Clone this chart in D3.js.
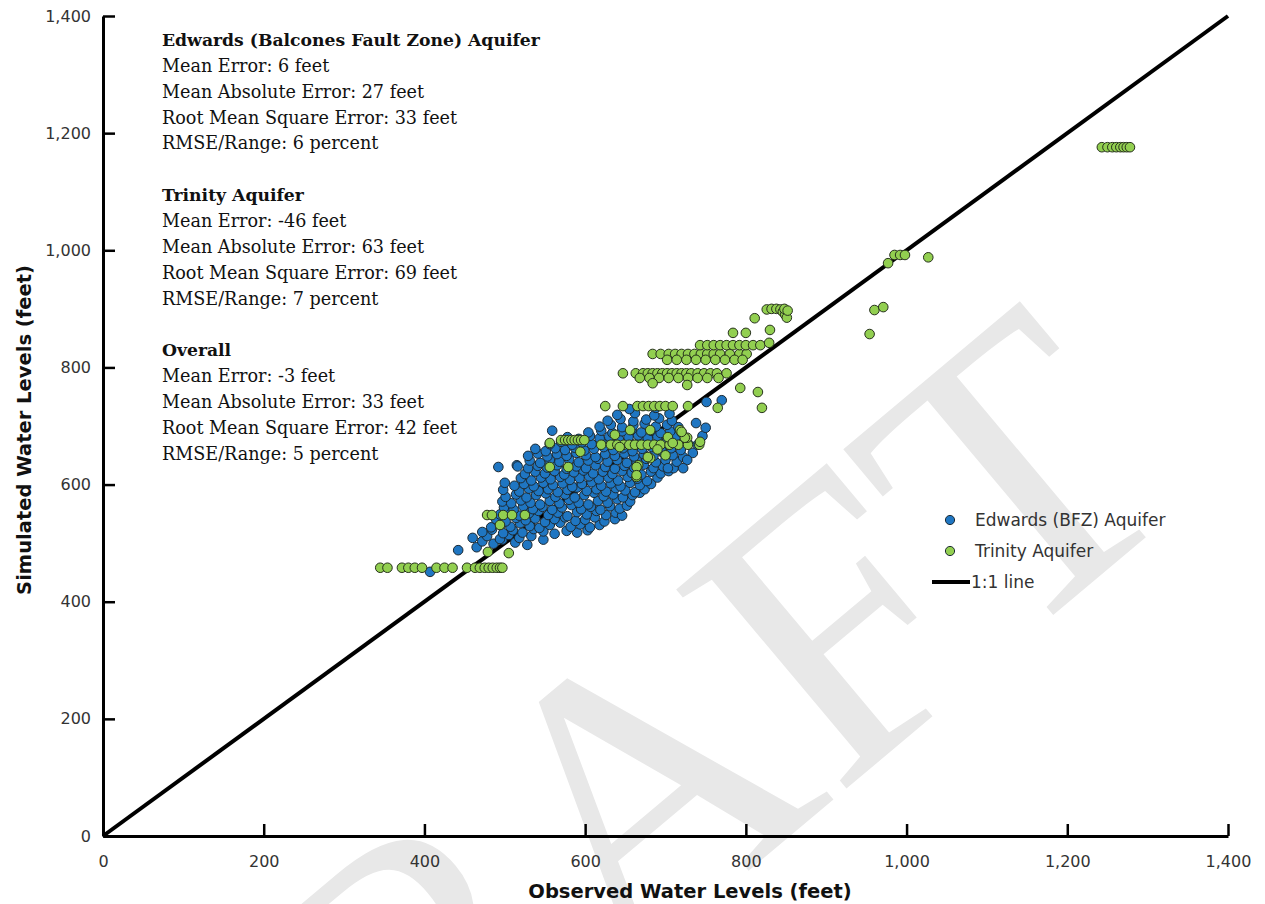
<!DOCTYPE html>
<html>
<head>
<meta charset="utf-8">
<script src="https://cdn.jsdelivr.net/npm/d3@7"></script>
<style>
  html, body { margin: 0; padding: 0; background: #ffffff; }
  svg { display: block; }
</style>
</head>
<body>
<svg id="chart" width="1265" height="904"></svg>
<script>
// ---- Data: observed vs simulated water levels (feet) ----
const xTicks = [0, 200, 400, 600, 800, 1000, 1200, 1400];
const yTicks = [0, 200, 400, 600, 800, 1000, 1200, 1400];

const edwardsPoints = [
  [407,451],[442,488],[465,493],[492,630],[515,633],
  [472,503],[486,499],[497,506],[513,501],[528,497],
  [460,509],[478,512],[494,507],[505,514],[518,509],[533,512],[548,506],
  [472,519],[484,523],[498,517],[510,522],[522,518],[536,524],[548,520],[562,516],[577,521],[590,518],[603,522],
  [483,527],[495,532],[507,528],[519,534],[531,529],[543,526],[556,531],[569,535],[582,528],[594,532],[606,527],[618,531],
  [489,541],[501,537],[514,543],[526,539],[538,542],[550,536],[562,541],[575,544],[588,538],[600,540],[612,544],[624,537],[637,541],
  [494,549],[506,553],[518,547],[530,551],[542,555],[554,548],[566,552],[578,546],[590,553],[602,549],[614,555],[626,548],[638,552],[646,547],
  [499,561],[511,557],[523,563],[535,558],[547,562],[559,557],[571,561],[583,565],[595,558],[607,562],[619,557],[631,563],[643,559],[652,564],
  [497,571],[508,568],[520,573],[532,569],[544,566],[556,572],[568,568],[580,574],[592,569],[604,566],[616,572],[628,569],[640,575],[656,571],
  [501,579],[514,583],[527,578],[539,582],[551,585],[563,579],[575,583],[587,578],[599,582],[611,586],[623,580],[635,583],[647,578],[659,582],[668,586],
  [498,591],[518,588],[530,593],[542,589],[554,592],[566,587],[578,591],[590,595],[602,589],[614,592],[626,588],[638,594],[650,590],[662,587],[674,592],
  [500,603],[512,598],[524,601],[536,597],[548,603],[560,599],[572,602],[584,596],[596,601],[608,604],[620,598],[632,602],[644,597],[656,603],[668,599],[682,601],
  [520,611],[533,607],[545,612],[557,609],[569,613],[581,608],[593,611],[605,614],[617,609],[629,612],[641,607],[653,613],[665,610],[677,606],[690,612],
  [525,618],[538,622],[550,619],[562,623],[574,617],[586,621],[598,624],[610,619],[622,622],[634,618],[646,623],[658,620],[670,617],[682,622],[694,619],[704,623],
  [516,631],[529,628],[541,632],[553,629],[565,633],[577,627],[589,631],[601,628],[613,633],[625,630],[637,627],[649,632],[661,629],[673,634],[685,628],[697,631],[710,628],
  [531,641],[544,637],[556,642],[568,639],[580,643],[592,638],[604,641],[616,644],[628,639],[640,642],[652,637],[664,641],[676,644],[688,638],[700,642],[714,639],
  [529,649],[541,653],[553,648],[565,652],[577,649],[589,654],[601,650],[613,647],[625,652],[637,649],[649,653],[661,648],[673,652],[685,649],[697,654],[709,650],[722,647],
  [538,661],[551,657],[563,662],[575,659],[587,663],[599,658],[611,661],[623,664],[635,659],[647,662],[659,657],[671,661],[683,664],[695,658],[707,662],[719,659],
  [556,669],[570,673],[584,668],[596,672],[608,669],[620,674],[632,670],[644,667],[656,671],[668,674],[680,669],[692,672],[704,668],[716,673],[728,670],
  [578,681],[592,678],[606,683],[618,679],[630,682],[642,677],[654,681],[666,684],[678,679],[690,682],[702,678],[714,683],
  [559,692],[604,689],[620,692],[634,688],[646,691],[658,694],[670,689],[682,692],[694,688],[706,691],[720,689],
  [618,699],[632,702],[646,698],[660,701],[674,704],[688,699],[702,702],[716,698],
  [628,709],[644,712],[660,708],[676,711],[692,713],[708,709],
  [640,719],[662,722],[686,718],[705,721],
  [655,729],[688,731],
  [751,741],[770,744],[734,654],[740,668],[746,683],[750,697],[738,705],[727,642],[722,628],[703,628]
];

const trinityPoints = [
  [345,458],[354,458],[372,458],[380,458],[388,458],[397,458],[415,458],[425,458],[435,458],
  [453,458],[463,458],[469,458],[475,458],[480,458],[485,458],[490,458],[494,458],[497,458],
  [505,483],[479,485],[494,531],
  [478,548],[484,548],[498,548],[509,548],[525,548],
  [556,630],[579,630],[556,671],
  [570,676],[575,676],[579,676],[583,676],[587,676],[591,676],[595,676],[599,676],
  [620,668],[632,668],[640,668],[648,668],[655,668],[662,668],[670,668],[678,668],[686,668],[694,668],[705,668],[716,668],[728,668],[742,668],
  [656,693],[681,693],[718,693],[727,680],[637,685],[643,664],[666,633],[664,613],[681,645],[703,681],
  [743,673],[709,671],[594,656],[664,630],[678,647],[724,680],[720,690],[664,616],[700,650],[690,660],
  [625,734],[647,734],[665,734],[672,734],[679,734],[686,734],[693,734],[700,734],[709,734],[728,734],[765,731],
  [647,790],[663,790],[672,790],[678,790],[684,790],[690,790],[696,790],[702,790],[708,790],
  [714,790],[720,790],[726,790],[732,790],[740,790],[748,790],[756,790],[764,790],[776,790],
  [668,782],[680,782],[692,782],[704,782],[716,782],[728,782],[740,782],[752,782],[766,782],
  [684,773],[727,770],[793,765],[815,758],[820,731],
  [684,823],[694,823],[704,823],[712,823],[720,823],[728,823],[736,823],[744,823],[752,823],[760,823],[768,823],[780,823],[792,823],[801,823],
  [702,813],[714,813],[726,813],[738,813],[750,813],[762,813],[774,813],[786,813],[796,813],
  [743,838],[752,838],[760,838],[768,838],[776,838],[784,838],[792,838],[800,838],[809,838],[818,838],
  [829,842],[830,864],[784,859],[800,859],[811,884],
  [826,899],[832,900],[838,900],[843,899],[846,895],[849,890],[851,885],[848,900],[852,897],
  [954,857],[960,898],[971,903],[977,978],[985,992],[992,992],[998,992],[1027,988],
  [1243,1176],[1250,1176],[1256,1176],[1261,1176],[1266,1176],[1270,1176],[1274,1176],[1278,1176]
];

const oneToOne = [[0, 0], [1400, 1400]];

const statGroups = [
  { title: "Edwards (Balcones Fault Zone) Aquifer",
    lines: ["Mean Error: 6 feet", "Mean Absolute Error: 27 feet", "Root Mean Square Error: 33 feet", "RMSE/Range: 6 percent"] },
  { title: "Trinity Aquifer",
    lines: ["Mean Error: -46 feet", "Mean Absolute Error: 63 feet", "Root Mean Square Error: 69 feet", "RMSE/Range: 7 percent"] },
  { title: "Overall",
    lines: ["Mean Error: -3 feet", "Mean Absolute Error: 33 feet", "Root Mean Square Error: 42 feet", "RMSE/Range: 5 percent"] }
];

const legendItems = [
  { label: "Edwards (BFZ) Aquifer", type: "dot", color: "#1f76c2" },
  { label: "Trinity Aquifer", type: "dot", color: "#92cf50" },
  { label: "1:1 line", type: "line", color: "#000000" }
];

// ---- Drawing ----
const svg = d3.select("#chart");
const x = d3.scaleLinear().domain([0, 1400]).range([103, 1228]);
const y = d3.scaleLinear().domain([0, 1400]).range([836, 16]);
const fmt = d3.format(",");

// Watermark behind everything
svg.append("g")
  .attr("transform", "translate(691,919) rotate(-40)")
  .append("text")
  .attr("text-anchor", "middle")
  .attr("font-family", "Liberation Serif, Times New Roman, serif")
  .attr("font-size", 400)
  .attr("fill", "#e8e8e8")
  .text("DRAFT");

// 1:1 line
svg.append("path")
  .datum(oneToOne)
  .attr("d", d3.line().x(d => x(d[0])).y(d => y(d[1])))
  .attr("stroke", "#000")
  .attr("stroke-width", 4)
  .attr("fill", "none");

// Scatter series
const markerR = 4.8;
svg.append("g").selectAll("circle")
  .data(edwardsPoints).join("circle")
  .attr("cx", d => x(d[0])).attr("cy", d => y(d[1]))
  .attr("r", markerR)
  .attr("fill", "#1f76c2").attr("stroke", "#1c2a33").attr("stroke-width", 1);

svg.append("g").selectAll("circle")
  .data(trinityPoints).join("circle")
  .attr("cx", d => x(d[0])).attr("cy", d => y(d[1]))
  .attr("r", markerR)
  .attr("fill", "#92cf50").attr("stroke", "#26301c").attr("stroke-width", 1);

// Axes
const xAxis = svg.append("g")
  .attr("transform", "translate(0,836)")
  .call(d3.axisBottom(x).tickValues(xTicks).tickFormat(fmt)
    .tickSizeInner(-12).tickSizeOuter(0).tickPadding(20));
const yAxis = svg.append("g")
  .attr("transform", "translate(103,0)")
  .call(d3.axisLeft(y).tickValues(yTicks).tickFormat(fmt)
    .tickSizeInner(-12).tickSizeOuter(0).tickPadding(12));

[xAxis, yAxis].forEach(ax => {
  ax.select(".domain").attr("stroke", "#000").attr("stroke-width", 3);
  ax.selectAll(".tick line").attr("stroke", "#000").attr("stroke-width", 2.5);
  ax.selectAll(".tick text")
    .attr("font-family", "DejaVu Sans, sans-serif")
    .attr("font-size", 16)
    .attr("fill", "#333");
});

// Axis titles
svg.append("text")
  .attr("x", 690).attr("y", 898)
  .attr("text-anchor", "middle")
  .attr("font-family", "DejaVu Sans, sans-serif")
  .attr("font-weight", "bold").attr("font-size", 19.5)
  .attr("fill", "#111")
  .text("Observed Water Levels (feet)");

svg.append("text")
  .attr("transform", "translate(31,430) rotate(-90)")
  .attr("text-anchor", "middle")
  .attr("font-family", "DejaVu Sans, sans-serif")
  .attr("font-weight", "bold").attr("font-size", 19.5)
  .attr("fill", "#111")
  .text("Simulated Water Levels (feet)");

// Statistics block
const statLines = [];
statGroups.forEach((g, gi) => {
  if (gi > 0) statLines.push(null);
  statLines.push({ text: g.title, bold: true });
  g.lines.forEach(t => statLines.push({ text: t, bold: false }));
});
svg.append("g").selectAll("text")
  .data(statLines.map((d, i) => ({ d, i })).filter(o => o.d))
  .join("text")
  .attr("x", 162)
  .attr("y", o => 46 + o.i * 25.85)
  .attr("font-family", "DejaVu Serif, serif")
  .attr("font-size", o => o.d.bold ? 17.2 : 17.6)
  .attr("font-weight", o => o.d.bold ? "bold" : "normal")
  .attr("fill", "#111")
  .text(o => o.d.text);

// Legend
const legend = svg.append("g").attr("transform", "translate(950,520)");
legendItems.forEach((item, i) => {
  const g = legend.append("g").attr("transform", `translate(0,${i * 31})`);
  if (item.type === "dot") {
    g.append("circle").attr("r", 4.6)
      .attr("fill", item.color).attr("stroke", "#1c2a33").attr("stroke-width", 1);
  } else {
    g.append("line").attr("x1", -18).attr("x2", 20)
      .attr("stroke", item.color).attr("stroke-width", 4);
  }
  g.append("text")
    .attr("x", item.type === "dot" ? 25 : 21)
    .attr("dy", "0.35em")
    .attr("font-family", "DejaVu Sans, sans-serif")
    .attr("font-size", 17)
    .attr("fill", "#333")
    .text(item.label);
});
</script>
</body>
</html>
